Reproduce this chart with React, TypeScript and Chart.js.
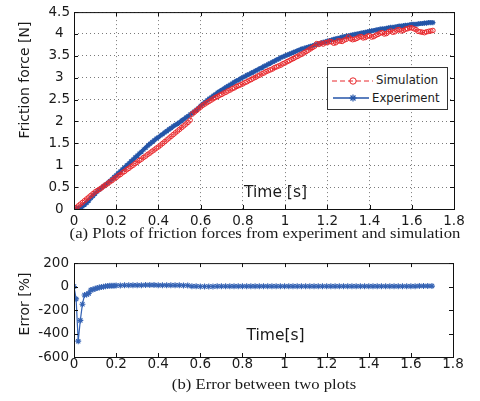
import React, { useEffect, useRef } from "react";
import { Chart, registerables } from "chart.js";

Chart.register(...registerables);

// ---------- data ----------
const TIME = [
  0.0, 0.01, 0.02, 0.03, 0.04, 0.05, 0.06, 0.07, 0.08, 0.09,
  0.1, 0.11, 0.12, 0.13, 0.14, 0.15, 0.16, 0.17, 0.18, 0.19,
  0.2, 0.21, 0.22, 0.23, 0.24, 0.25, 0.26, 0.27, 0.28, 0.29,
  0.3, 0.31, 0.32, 0.33, 0.34, 0.35, 0.36, 0.37, 0.38, 0.39,
  0.4, 0.41, 0.42, 0.43, 0.44, 0.45, 0.46, 0.47, 0.48, 0.49,
  0.5, 0.51, 0.52, 0.53, 0.54, 0.55, 0.56, 0.57, 0.58, 0.59,
  0.6, 0.61, 0.62, 0.63, 0.64, 0.65, 0.66, 0.67, 0.68, 0.69,
  0.7, 0.71, 0.72, 0.73, 0.74, 0.75, 0.76, 0.77, 0.78, 0.79,
  0.8, 0.81, 0.82, 0.83, 0.84, 0.85, 0.86, 0.87, 0.88, 0.89,
  0.9, 0.91, 0.92, 0.93, 0.94, 0.95, 0.96, 0.97, 0.98, 0.99,
  1.0, 1.01, 1.02, 1.03, 1.04, 1.05, 1.06, 1.07, 1.08, 1.09,
  1.1, 1.11, 1.12, 1.13, 1.14, 1.15, 1.16, 1.17, 1.18, 1.19,
  1.2, 1.21, 1.22, 1.23, 1.24, 1.25, 1.26, 1.27, 1.28, 1.29,
  1.3, 1.31, 1.32, 1.33, 1.34, 1.35, 1.36, 1.37, 1.38, 1.39,
  1.4, 1.41, 1.42, 1.43, 1.44, 1.45, 1.46, 1.47, 1.48, 1.49,
  1.5, 1.51, 1.52, 1.53, 1.54, 1.55, 1.56, 1.57, 1.58, 1.59,
  1.6, 1.61, 1.62, 1.63, 1.64, 1.65, 1.66, 1.67, 1.68, 1.69,
  1.7,
];

const SIMULATION = [
  0.0, 0.03, 0.07, 0.11, 0.15, 0.19, 0.23, 0.27, 0.31, 0.35,
  0.39, 0.42, 0.45, 0.48, 0.52, 0.55, 0.58, 0.62, 0.65, 0.69,
  0.72, 0.76, 0.79, 0.83, 0.86, 0.9, 0.93, 0.97, 1.0, 1.04,
  1.07, 1.11, 1.14, 1.18, 1.21, 1.25, 1.28, 1.32, 1.35, 1.39,
  1.42, 1.46, 1.5, 1.54, 1.58, 1.62, 1.66, 1.7, 1.74, 1.78,
  1.82, 1.86, 1.9, 1.94, 1.98, 2.03, 2.17, 2.21, 2.25, 2.29,
  2.33, 2.37, 2.4, 2.43, 2.46, 2.49, 2.52, 2.55, 2.57, 2.6,
  2.62, 2.65, 2.67, 2.7, 2.72, 2.75, 2.77, 2.8, 2.82, 2.84,
  2.86, 2.89, 2.91, 2.94, 2.96, 2.99, 3.01, 3.04, 3.06, 3.09,
  3.11, 3.14, 3.16, 3.18, 3.2, 3.23, 3.25, 3.27, 3.29, 3.32,
  3.34, 3.37, 3.39, 3.42, 3.44, 3.47, 3.49, 3.52, 3.54, 3.57,
  3.6, 3.63, 3.66, 3.69, 3.72, 3.78, 3.76, 3.79, 3.77, 3.8,
  3.8, 3.83, 3.82, 3.79, 3.8, 3.84, 3.84, 3.83, 3.86, 3.88,
  3.93, 3.89, 3.87, 3.88, 3.9, 3.93, 3.94, 3.91, 3.92, 3.95,
  3.96, 3.93, 3.94, 3.97, 3.99, 4.02, 4.03, 4.0, 4.01, 4.05,
  4.07, 4.04, 4.05, 4.09, 4.1, 4.07, 4.08, 4.11, 4.12, 4.14,
  4.14, 4.12, 4.1, 4.06, 4.05, 4.04, 4.03, 4.05, 4.06, 4.07,
  4.08,
];

const EXPERIMENT = [
  0.0, 0.01, 0.02, 0.04, 0.06, 0.1, 0.14, 0.19, 0.25, 0.3,
  0.35, 0.4, 0.44, 0.48, 0.52, 0.56, 0.6, 0.64, 0.68, 0.73,
  0.77, 0.82, 0.86, 0.91, 0.95, 1.0, 1.04, 1.09, 1.13, 1.18,
  1.22, 1.27, 1.31, 1.36, 1.4, 1.45, 1.49, 1.53, 1.57, 1.61,
  1.64, 1.68, 1.71, 1.75, 1.78, 1.82, 1.85, 1.89, 1.92, 1.95,
  1.98, 2.02, 2.05, 2.09, 2.12, 2.16, 2.19, 2.23, 2.27, 2.31,
  2.36, 2.4, 2.44, 2.48, 2.52, 2.55, 2.59, 2.62, 2.66, 2.69,
  2.72, 2.75, 2.78, 2.81, 2.84, 2.87, 2.9, 2.93, 2.95, 2.98,
  3.01, 3.03, 3.06, 3.08, 3.11, 3.13, 3.16, 3.18, 3.21, 3.23,
  3.26, 3.28, 3.31, 3.33, 3.36, 3.38, 3.41, 3.43, 3.46, 3.48,
  3.5, 3.52, 3.54, 3.56, 3.58, 3.6, 3.62, 3.64, 3.66, 3.67,
  3.69, 3.7, 3.72, 3.73, 3.75, 3.76, 3.78, 3.79, 3.81, 3.82,
  3.84, 3.85, 3.86, 3.88, 3.89, 3.9, 3.91, 3.93, 3.94, 3.95,
  3.96, 3.97, 3.98, 3.99, 4.0, 4.01, 4.02, 4.03, 4.04, 4.05,
  4.06, 4.07, 4.08, 4.09, 4.1, 4.11, 4.12, 4.12, 4.13, 4.14,
  4.15, 4.15, 4.16, 4.17, 4.18, 4.18, 4.19, 4.2, 4.2, 4.21,
  4.22, 4.22, 4.22, 4.23, 4.24, 4.24, 4.25, 4.25, 4.26, 4.26,
  4.26,
];

const ERROR_TIME = [
  0.0, 0.01, 0.02, 0.03, 0.04, 0.05, 0.06, 0.07, 0.08, 0.09,
  0.1, 0.11, 0.12, 0.13, 0.14, 0.15, 0.16, 0.17, 0.18, 0.19,
  0.2, 0.22, 0.24, 0.26, 0.28, 0.3, 0.32, 0.34, 0.36, 0.38,
  0.4, 0.42, 0.44, 0.46, 0.48, 0.5, 0.52, 0.54, 0.56, 0.58,
  0.6, 0.62, 0.64, 0.66, 0.68, 0.7, 0.72, 0.74, 0.76, 0.78,
  0.8, 0.82, 0.84, 0.86, 0.88, 0.9, 0.92, 0.94, 0.96, 0.98,
  1.0, 1.02, 1.04, 1.06, 1.08, 1.1, 1.12, 1.14, 1.16, 1.18,
  1.2, 1.22, 1.24, 1.26, 1.28, 1.3, 1.32, 1.34, 1.36, 1.38,
  1.4, 1.42, 1.44, 1.46, 1.48, 1.5, 1.52, 1.54, 1.56, 1.58,
  1.6, 1.62, 1.64, 1.66, 1.68, 1.7,
];

const ERROR_PERCENT = [
  0, -105, -465, -288, -150, -72, -68, -58, -30, -24,
  -18, -13, -8, -4, -1, 2, 4, 6, 7, 8,
  9, 10, 11, 11, 12, 12, 12, 13, 13, 13,
  12, 12, 12, 11, 11, 11, 10, 9, 3, 2,
  1, 1, 1, 1, 2, 2, 2, 2, 3, 3,
  3, 3, 3, 3, 3, 3, 3, 2, 2, 2,
  3, 3, 2, 2, 2, 2, 2, 2, 2, 2,
  2, 2, 2, 2, 2, 2, 2, 2, 3, 3,
  3, 3, 3, 3, 3, 3, 3, 3, 3, 3,
  3, 3, 4, 4, 4, 4,
];

const X_TICKS = [0, 0.2, 0.4, 0.6, 0.8, 1, 1.2, 1.4, 1.6, 1.8];
const FORCE_TICKS = [0, 0.5, 1, 1.5, 2, 2.5, 3, 3.5, 4, 4.5];
const ERROR_TICKS = [-600, -400, -200, 0, 200];

// ---------- styles ----------
const RED = "#e8282c";
const BLUE = "#2455a8";
const ERR_BLUE = "#3563b4";
const SANS = "DejaVu Sans";
const SERIF = "Liberation Serif";

const framePlugin = {
  id: "matlabFrame",
  afterDraw(chart: any) {
    const { ctx, chartArea: a, scales } = chart;
    ctx.save();
    ctx.strokeStyle = "#111";
    ctx.lineWidth = 1;
    ctx.setLineDash([]);
    ctx.strokeRect(a.left + 0.5, a.top + 0.5, a.right - a.left, a.bottom - a.top);
    const tl = 4;
    ctx.beginPath();
    scales.x.ticks.forEach((t: any) => {
      const px = Math.round(scales.x.getPixelForValue(t.value)) + 0.5;
      ctx.moveTo(px, a.bottom);
      ctx.lineTo(px, a.bottom - tl);
      ctx.moveTo(px, a.top);
      ctx.lineTo(px, a.top + tl);
    });
    scales.y.ticks.forEach((t: any) => {
      const py = Math.round(scales.y.getPixelForValue(t.value)) + 0.5;
      ctx.moveTo(a.left, py);
      ctx.lineTo(a.left + tl, py);
      ctx.moveTo(a.right, py);
      ctx.lineTo(a.right - tl, py);
    });
    ctx.stroke();
    ctx.restore();
  },
};

function tickList(values: number[]) {
  return (s: any) => {
    s.ticks = values.map((v) => ({ value: v }));
  };
}

function TopChart() {
  const ref = useRef<HTMLCanvasElement | null>(null);
  useEffect(() => {
    if (!ref.current) return;
    const chart = new Chart(ref.current, {
      type: "line",
      data: {
        datasets: [
          {
            label: "Simulation",
            data: TIME.map((t, i) => ({ x: t, y: SIMULATION[i] })),
            borderColor: RED,
            borderWidth: 1,
            borderDash: [4, 3],
            pointStyle: "circle",
            pointRadius: 2.3,
            pointBorderColor: RED,
            pointBackgroundColor: "rgba(0,0,0,0)",
            pointBorderWidth: 1,
            fill: false,
          },
          {
            label: "Experiment",
            data: TIME.map((t, i) => ({ x: t, y: EXPERIMENT[i] })),
            borderColor: BLUE,
            borderWidth: 2.5,
            pointStyle: "star",
            pointRadius: 2.6,
            pointBorderColor: BLUE,
            pointBorderWidth: 1.2,
            fill: false,
          },
        ],
      } as any,
      options: {
        animation: false,
        responsive: false,
        devicePixelRatio: 1,
        events: [],
        layout: { padding: { top: 11, right: 26, left: 0, bottom: 0 } },
        plugins: { legend: { display: false }, tooltip: { enabled: false } },
        scales: {
          x: {
            type: "linear",
            min: 0,
            max: 1.8,
            afterBuildTicks: tickList(X_TICKS),
            afterFit: (s: any) => {
              s.height = 41;
            },
            grid: { color: "#7a7a7a", lineWidth: 1, drawTicks: false },
            border: { display: false, dash: [1, 3] },
            ticks: {
              color: "#1a1a1a",
              font: { family: SANS, size: 13.5 },
              padding: 4,
              maxRotation: 0,
              autoSkip: false,
              callback: (v: any) => String(v),
            },
          },
          y: {
            type: "linear",
            min: 0,
            max: 4.5,
            afterBuildTicks: tickList(FORCE_TICKS),
            afterFit: (s: any) => {
              s.width = 74;
            },
            grid: { color: "#7a7a7a", lineWidth: 1, drawTicks: false },
            border: { display: false, dash: [1, 3] },
            ticks: {
              color: "#1a1a1a",
              font: { family: SANS, size: 13.5 },
              padding: 4,
              crossAlign: "center",
              autoSkip: false,
              callback: (v: any) => String(v),
            },
          },
        },
      } as any,
      plugins: [framePlugin],
    });
    return () => chart.destroy();
  }, []);
  return (
    <canvas
      ref={ref}
      width={480}
      height={250}
      style={{ position: "absolute", left: 0, top: 0, width: 480, height: 250 }}
    />
  );
}

function BottomChart() {
  const ref = useRef<HTMLCanvasElement | null>(null);
  useEffect(() => {
    if (!ref.current) return;
    const chart = new Chart(ref.current, {
      type: "line",
      data: {
        datasets: [
          {
            label: "Error",
            data: ERROR_TIME.map((t, i) => ({ x: t, y: ERROR_PERCENT[i] })),
            borderColor: ERR_BLUE,
            borderWidth: 1.2,
            pointStyle: "star",
            pointRadius: 3,
            pointBorderColor: ERR_BLUE,
            pointBorderWidth: 1.1,
            fill: false,
          },
        ],
      } as any,
      options: {
        animation: false,
        responsive: false,
        devicePixelRatio: 1,
        events: [],
        layout: { padding: { top: 9, right: 27, left: 0, bottom: 0 } },
        plugins: { legend: { display: false }, tooltip: { enabled: false } },
        scales: {
          x: {
            type: "linear",
            min: 0,
            max: 1.8,
            afterBuildTicks: tickList(X_TICKS),
            afterFit: (s: any) => {
              s.height = 44;
            },
            grid: { display: false, drawTicks: false },
            border: { display: false },
            ticks: {
              color: "#1a1a1a",
              font: { family: SANS, size: 13.5 },
              padding: -1,
              maxRotation: 0,
              autoSkip: false,
              callback: (v: any) => String(v),
            },
          },
          y: {
            type: "linear",
            min: -600,
            max: 200,
            afterBuildTicks: tickList(ERROR_TICKS),
            afterFit: (s: any) => {
              s.width = 74;
            },
            grid: { display: false, drawTicks: false },
            border: { display: false },
            ticks: {
              color: "#1a1a1a",
              font: { family: SANS, size: 13.5 },
              padding: 5,
              autoSkip: false,
              callback: (v: any) => String(v),
            },
          },
        },
      } as any,
      plugins: [framePlugin],
    });
    return () => chart.destroy();
  }, []);
  return (
    <canvas
      ref={ref}
      width={480}
      height={151}
      style={{ position: "absolute", left: 0, top: 250, width: 480, height: 151 }}
    />
  );
}

const textBase: React.CSSProperties = {
  position: "absolute",
  whiteSpace: "nowrap",
  lineHeight: 1,
  color: "#1a1a1a",
};

function Legend() {
  return (
    <div
      style={{
        position: "absolute",
        left: 327,
        top: 67,
        width: 119,
        height: 41,
        border: "1px solid #333",
        background: "#fff",
      }}
    >
      <svg width={119} height={41} style={{ position: "absolute", left: 0, top: 0 }}>
        <line x1={4} y1={13} x2={45} y2={13} stroke={RED} strokeWidth={1} strokeDasharray="5 3" />
        <circle cx={25} cy={13} r={3.2} fill="none" stroke={RED} strokeWidth={1} />
        <line x1={5} y1={30} x2={41} y2={30} stroke={BLUE} strokeWidth={1.5} />
        <g stroke={BLUE} strokeWidth={1.2}>
          <line x1={21.5} y1={30} x2={28.5} y2={30} />
          <line x1={25} y1={26.5} x2={25} y2={33.5} />
          <line x1={22.5} y1={27.5} x2={27.5} y2={32.5} />
          <line x1={22.5} y1={32.5} x2={27.5} y2={27.5} />
        </g>
      </svg>
      <div style={{ ...textBase, left: 48, top: 7.4, fontFamily: SANS, fontSize: 11.7 }}>Simulation</div>
      <div style={{ ...textBase, left: 44, top: 24.7, fontFamily: SANS, fontSize: 11.7 }}>Experiment</div>
    </div>
  );
}

export default function App() {
  return (
    <div
      style={{
        position: "fixed",
        left: 0,
        top: 0,
        width: 480,
        height: 401,
        background: "#fff",
        overflow: "hidden",
      }}
    >
      <TopChart />
      <BottomChart />
      <Legend />
      <div
        style={{
          ...textBase,
          left: 24,
          top: 80,
          fontFamily: SANS,
          fontSize: 14,
          transform: "translate(-50%, -50%) rotate(-90deg)",
        }}
      >
        Friction force [N]
      </div>
      <div
        style={{
          ...textBase,
          left: 24,
          top: 304,
          fontFamily: SANS,
          fontSize: 14,
          transform: "translate(-50%, -50%) rotate(-90deg)",
        }}
      >
        Error [%]
      </div>
      <div style={{ ...textBase, left: 244, top: 185, fontFamily: SANS, fontSize: 15.5 }}>Time [s]</div>
      <div style={{ ...textBase, left: 246.5, top: 328, fontFamily: SANS, fontSize: 15.5 }}>Time[s]</div>
      <div
        style={{
          ...textBase,
          left: 265,
          top: 226.4,
          fontFamily: SERIF,
          fontSize: 14.5,
          transform: "translateX(-50%) scaleX(1.15)",
        }}
      >
        (a) Plots of friction forces from experiment and simulation
      </div>
      <div
        style={{
          ...textBase,
          left: 264,
          top: 376.9,
          fontFamily: SERIF,
          fontSize: 14.5,
          transform: "translateX(-50%) scaleX(1.15)",
        }}
      >
        (b) Error between two plots
      </div>
    </div>
  );
}
